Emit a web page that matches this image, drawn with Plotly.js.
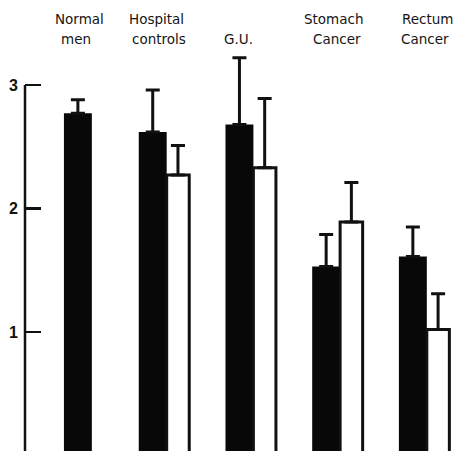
<!DOCTYPE html>
<html><head><meta charset="utf-8">
<script src="https://cdn.plot.ly/plotly-3.0.1.min.js"></script>
<style>html,body{margin:0;padding:0;background:#fff}#chart{width:455px;height:451px}</style>
</head><body><div id="chart"></div>
<script>
// ---- data ----
const categories = ["Normal men", "Hospital controls", "G.U.", "Stomach Cancer", "Rectum Cancer"];
const blackValues = [2.77, 2.62, 2.68, 1.53, 1.61];
const blackErrors = [0.11, 0.34, 0.54, 0.26, 0.24];
const whiteValues = [null, 2.27, 2.33, 1.89, 1.02];
const whiteErrors = [null, 0.24, 0.56, 0.32, 0.29];
const yTickValues = [1, 2, 3];
const yTickLabels = ["1", "2", "3"];

// ---- layout helpers (positions / styles) ----
const xIdx = categories.map((_, i) => i);
const blackWidth = 0.322;
const whiteWidth = 0.26;
const blackOffsets = whiteValues.map(v => v === null ? -0.185 : -blackWidth);
const labelShiftPx = [[0, -4], [-10, -8], [0, -15], [-6.5, -3.5], [1, -2]];

const row1 = [], row2 = [];
categories.forEach(c => {
  const w = c.split(' ');
  if (w.length > 1) { row1.push(w[0]); row2.push(w.slice(1).join(' ')); }
  else { row1.push(''); row2.push(c); }
});

const labelFont = {family: 'DejaVu Sans, Verdana, sans-serif', size: 13.5, color: '#151515'};
const annotations = [];
xIdx.forEach(i => {
  if (row1[i]) annotations.push({xref: 'x', yref: 'paper', x: i, y: 0.958, text: row1[i], showarrow: false,
    xshift: labelShiftPx[i][0], font: labelFont, xanchor: 'center', yanchor: 'middle'});
  annotations.push({xref: 'x', yref: 'paper', x: i, y: 0.913, text: row2[i], showarrow: false,
    xshift: labelShiftPx[i][1], font: labelFont, xanchor: 'center', yanchor: 'middle'});
});

const traces = [
  {type: 'bar', x: xIdx, y: blackValues, width: blackWidth, offset: blackOffsets,
   marker: {color: '#080808', line: {width: 0}},
   error_y: {type: 'data', symmetric: false, array: blackErrors, arrayminus: blackErrors.map(() => 0),
             color: '#111', thickness: 3, width: 7},
   hoverinfo: 'skip'},
  {type: 'bar', x: xIdx, y: whiteValues, width: whiteWidth, offset: 0,
   marker: {color: '#ffffff', line: {width: 3, color: '#111'}},
   error_y: {type: 'data', symmetric: false, array: whiteErrors, arrayminus: whiteErrors.map(v => v === null ? null : 0),
             color: '#111', thickness: 3, width: 7},
   hoverinfo: 'skip'}
];

const layout = {
  width: 455, height: 451,
  margin: {l: 25, r: 0, t: 0, b: 0},
  paper_bgcolor: '#fff', plot_bgcolor: '#fff',
  showlegend: false, barmode: 'overlay',
  xaxis: {type: 'linear', range: [-0.634, 4.325], showline: false, showgrid: false, zeroline: false,
          showticklabels: false, ticks: ''},
  yaxis: {range: [0.036, 3.688], showline: false, showgrid: false, zeroline: false,
          tickmode: 'array', tickvals: yTickValues, ticktext: yTickLabels,
          ticks: 'inside', ticklen: 16, tickwidth: 2.5, tickcolor: '#111',
          tickfont: {family: 'Liberation Sans, Arial, sans-serif', size: 16, color: '#111', weight: 'bold'},
          ticklabelstandoff: 6},
  shapes: [{type: 'line', xref: 'paper', yref: 'y', x0: 0, x1: 0, y0: 0, y1: 3,
            line: {color: '#111', width: 2.5}}],
  annotations: annotations
};

Plotly.newPlot('chart', traces, layout, {displayModeBar: false, staticPlot: true});
</script></body></html>
